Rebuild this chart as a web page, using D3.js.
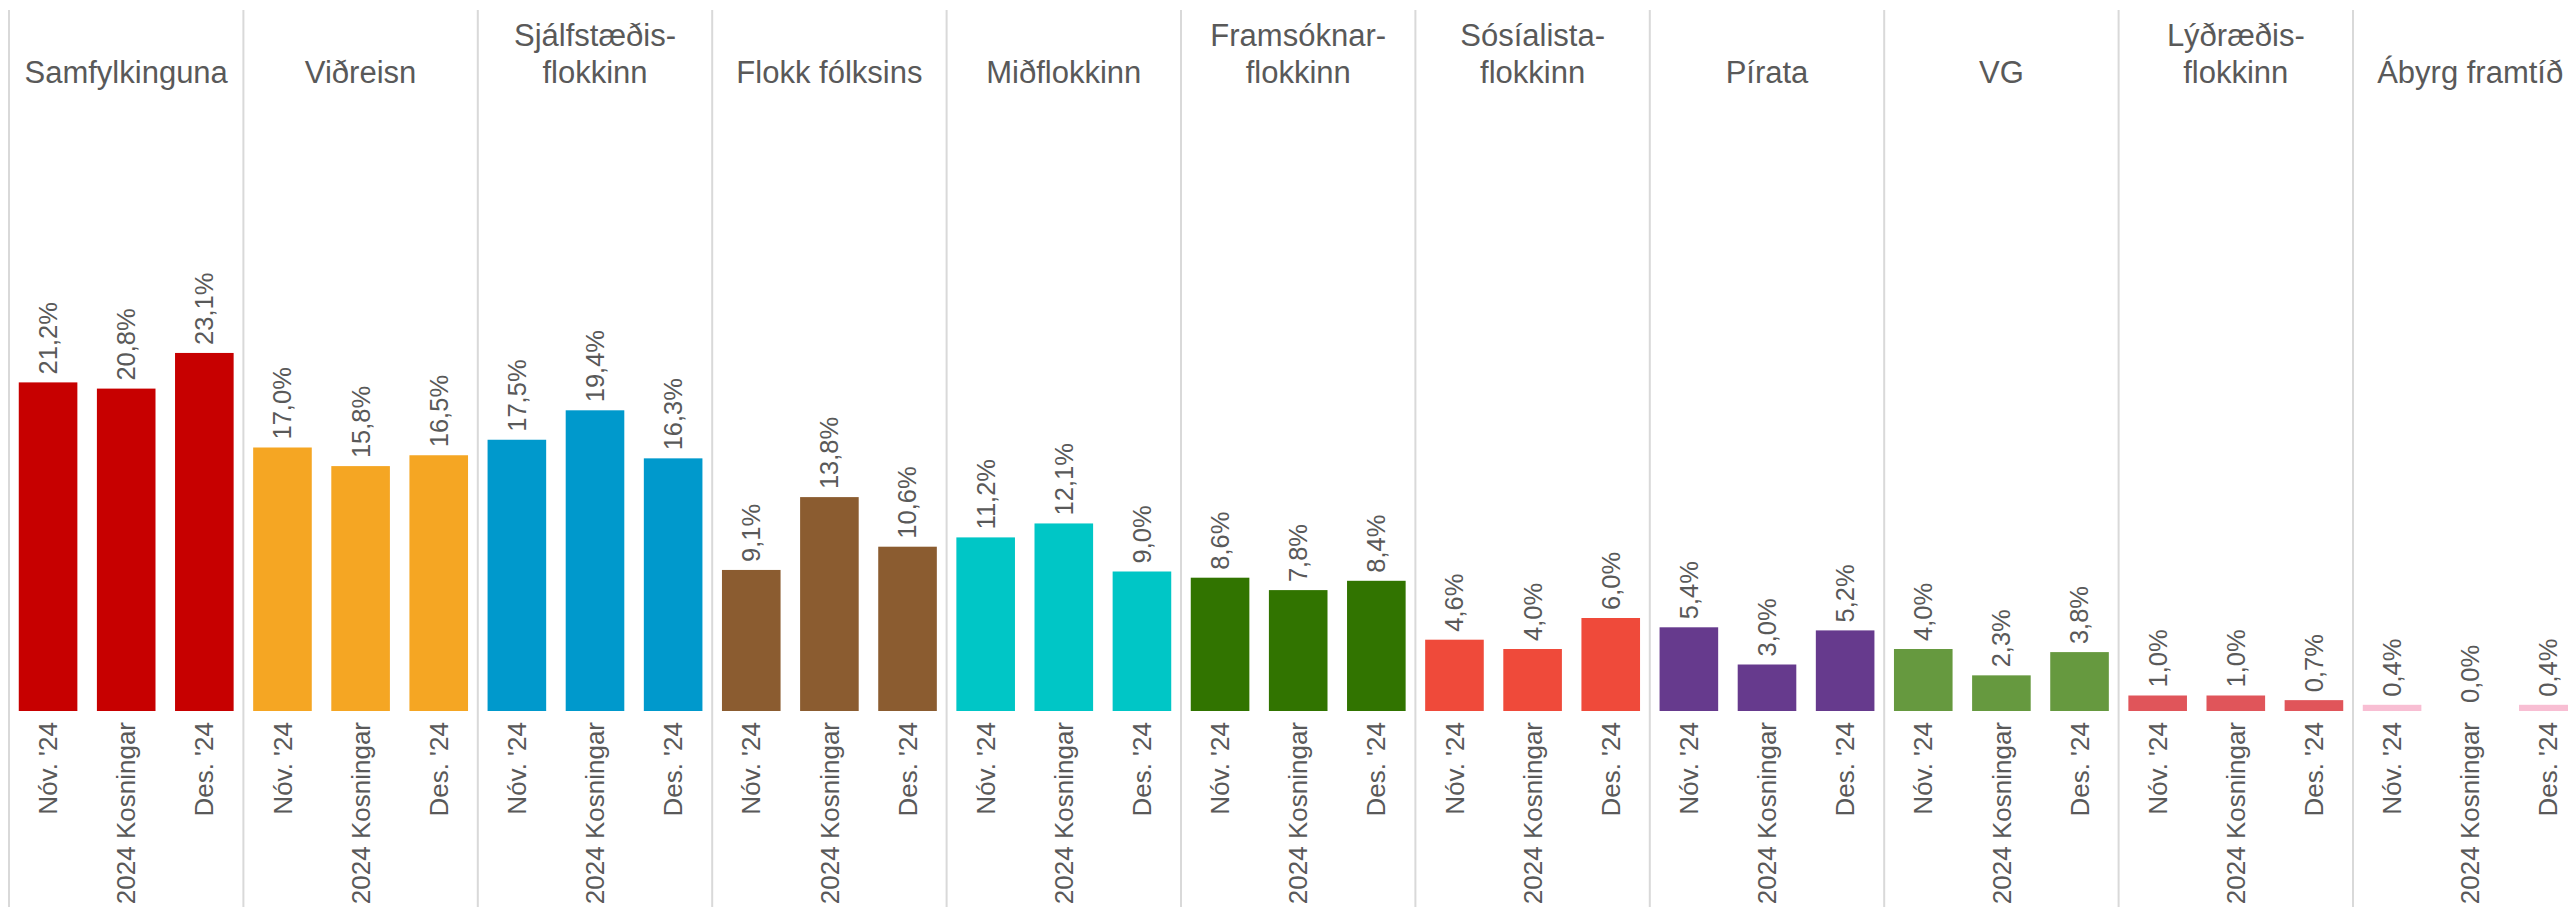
<!DOCTYPE html>
<html>
<head>
<meta charset="utf-8">
<script src="https://cdn.jsdelivr.net/npm/d3@7"></script>
<style>
  body { margin: 0; background: #fff; }
  text { font-family: "Liberation Sans", Arial, sans-serif; fill: #595959; }
</style>
</head>
<body>
<div id="chart"></div>
<script>
var parties = ["Samfylkinguna", "Viðreisn", "Sjálfstæðis-|flokkinn", "Flokk fólksins", "Miðflokkinn",
    "Framsóknar-|flokkinn", "Sósíalista-|flokkinn", "Pírata", "VG", "Lýðræðis-|flokkinn", "Ábyrg framtíð"];
var partyColors = ["#C70000", "#F5A623", "#0099CC", "#8B5C30", "#00C6C6",
    "#317400", "#EF4A3A", "#663A8D", "#66993F", "#E0555A", "#F8BED3"];
var periods = ["Nóv. '24", "2024 Kosningar", "Des. '24"];
var novValues = [21.2, 17.0, 17.5, 9.1, 11.2, 8.6, 4.6, 5.4, 4.0, 1.0, 0.4];
var electionValues = [20.8, 15.8, 19.4, 13.8, 12.1, 7.8, 4.0, 3.0, 2.3, 1.0, 0.0];
var decValues = [23.1, 16.5, 16.3, 10.6, 9.0, 8.4, 6.0, 5.2, 3.8, 0.7, 0.4];

var width = 2568, height = 907,
    panelLeft = 9, panelWidth = 234.4,
    baseline = 711;

var svg = d3.select("#chart").append("svg")
    .attr("width", width)
    .attr("height", height);

var px = d3.scaleBand()
    .domain(parties)
    .range([panelLeft, panelLeft + parties.length * panelWidth]);

var x = d3.scaleBand()
    .domain(periods)
    .range([0, px.bandwidth()])
    .paddingInner(0.25)
    .paddingOuter(0.125);

var y = d3.scaleLinear()
    .domain([0, 25])
    .range([baseline, baseline - 25 * 15.5]);

var fmt = d3.formatLocale({decimal: ",", thousands: ".", grouping: [3], currency: ["", ""]}).format(".1f");

var data = parties.map(function (p, i) {
    return {
        party: p,
        color: partyColors[i],
        values: [novValues[i], electionValues[i], decValues[i]].map(function (v, j) {
            return {period: periods[j], value: v};
        })
    };
});

// divider lines
svg.append("g")
    .selectAll("line")
    .data(parties)
    .enter().append("line")
    .attr("x1", function (d) { return px(d); })
    .attr("x2", function (d) { return px(d); })
    .attr("y1", 10)
    .attr("y2", height)
    .attr("stroke", "#D9D9D9")
    .attr("stroke-width", 2);

var panel = svg.selectAll(".panel")
    .data(data)
    .enter().append("g")
    .attr("class", "panel")
    .attr("transform", function (d) { return "translate(" + px(d.party) + ",0)"; });

// headers
panel.append("text")
    .attr("text-anchor", "middle")
    .style("font-size", "31px")
    .each(function (d) {
        var lines = d.party.split("|");
        var t = d3.select(this);
        lines.forEach(function (l, k) {
            t.append("tspan")
                .attr("x", px.bandwidth() / 2)
                .attr("y", 83 - (lines.length - 1 - k) * 37)
                .text(l);
        });
    });

// bars
panel.selectAll("rect")
    .data(function (d) { return d.values.map(function (v) { return {period: v.period, value: v.value, color: d.color}; }); })
    .enter().append("rect")
    .attr("x", function (d) { return x(d.period); })
    .attr("y", function (d) { return y(d.value); })
    .attr("width", x.bandwidth())
    .attr("height", function (d) { return baseline - y(d.value); })
    .attr("fill", function (d) { return d.color; });

// value labels
panel.selectAll(".val")
    .data(function (d) { return d.values; })
    .enter().append("text")
    .attr("class", "val")
    .style("font-size", "25.5px")
    .attr("text-anchor", "start")
    .attr("dy", "0.35em")
    .attr("transform", function (d) {
        return "translate(" + (x(d.period) + x.bandwidth() / 2) + "," + (y(d.value) - 8) + ") rotate(-90)";
    })
    .text(function (d) { return fmt(d.value) + "%"; });

// period axis
panel.append("g")
    .attr("transform", "translate(0," + baseline + ")")
    .call(d3.axisBottom(x).tickSize(0))
    .call(function (g) { g.select(".domain").remove(); })
    .selectAll("text")
    .style("font-size", "26px")
    .style("font-family", "'Liberation Sans', Arial, sans-serif")
    .attr("fill", "#595959")
    .attr("text-anchor", "end")
    .attr("x", -11)
    .attr("y", 0)
    .attr("dy", "0.35em")
    .attr("transform", "rotate(-90)");
</script>
</body>
</html>
